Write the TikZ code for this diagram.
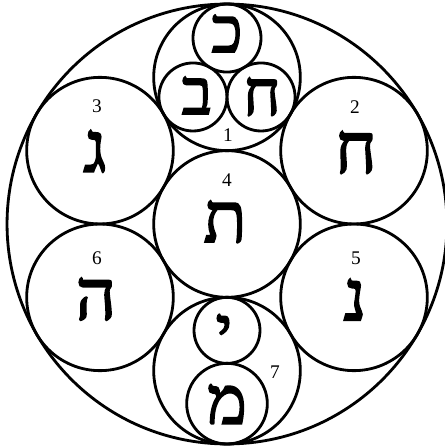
\documentclass[tikz,border=0pt]{standalone}
\usepackage{fontspec}
\setmainfont{Liberation Serif}
\newfontfamily\hebfont[Script=Hebrew,AutoFakeBold=2.5]{Liberation Serif}
\TeXXeTstate=1
\usetikzlibrary{calc}

\begin{document}
\begin{tikzpicture}[
    x=0.02cm, y=0.02cm,
    ring/.style={circle, draw, line width=1.6pt, inner sep=0pt, minimum size=#1},
    letter/.style={inner sep=0pt, text height=0.57*#1pt, text depth=0pt, font=\hebfont\bfseries\fontsize{#1}{#1}\selectfont},
    letter/.default=40,
    num/.style={inner sep=0pt, font=\fontsize{11}{11}\selectfont}
]
\useasboundingbox (0,0) rectangle (445,447);
\node[ring=8.8cm] (outer) at (227,223) {};
\node[ring=2.933cm] (c4) at (227,223) {};
\node[ring=2.933cm] (c1) at ($(c4)+(90:146.67)$) {};
\node[ring=2.933cm] (c2) at ($(c4)+(30:146.67)$) {};
\node[ring=2.933cm] (c3) at ($(c4)+(150:146.67)$) {};
\node[ring=2.933cm] (c5) at ($(c4)+(-30:146.67)$) {};
\node[ring=2.933cm] (c6) at ($(c4)+(-150:146.67)$) {};
\node[ring=2.933cm] (c7) at ($(c4)+(-90:146.67)$) {};
\node[ring=1.361cm] (s1) at ($(c1)+(90:39.3)$) {};
\node[ring=1.361cm] (s2) at ($(c1)+(210:39.3)$) {};
\node[ring=1.361cm] (s3) at ($(c1)+(330:39.3)$) {};
\node[ring=1.32cm] (s4) at ($(c7)+(0,40.3)$) {};
\node[ring=1.613cm] (s5) at ($(c7)+(0,-33)$) {};

\node[letter=36] (kaf) at ($(s1)+(0,4)$) {\beginR כ\endR};
\node[letter=36] (bet) at ($(s2)+(4,1)$) {\beginR ב\endR};
\node[letter=36] (het1) at ($(s3)+(1,0)$) {\beginR ח\endR};
\node[letter] (het2) at ($(c2)+(2,-2)$) {\beginR ח\endR};
\node[letter] (gimel) at ($(c3)+(-5,-1)$) {\beginR ג\endR};
\node[letter] (tav) at ($(c4)+(-2,2)$) {\beginR ת\endR};
\node[letter] (nun) at ($(c5)+(1,-3)$) {\beginR נ\endR};
\node[letter] (he) at ($(c6)+(-4,-2)$) {\beginR ה\endR};
\node[letter=36] (yod) at ($(s4)+(-3,-3)$) {\beginR י\endR};
\node[letter=38] (mem) at ($(s5)+(0,-1)$) {\beginR מ\endR};

\node[num] (n1) at ($(c1)+(1,-58)$) {1};
\node[num] (n2) at ($(c2)+(1,44)$) {2};
\node[num] (n3) at ($(c3)+(-3,44)$) {3};
\node[num] (n4) at ($(c4)+(0,44)$) {4};
\node[num] (n5) at ($(c5)+(2,39)$) {5};
\node[num] (n6) at ($(c6)+(-3,39)$) {6};
\node[num] (n7) at ($(c7)+(48,-2)$) {7};
\end{tikzpicture}
\end{document}
